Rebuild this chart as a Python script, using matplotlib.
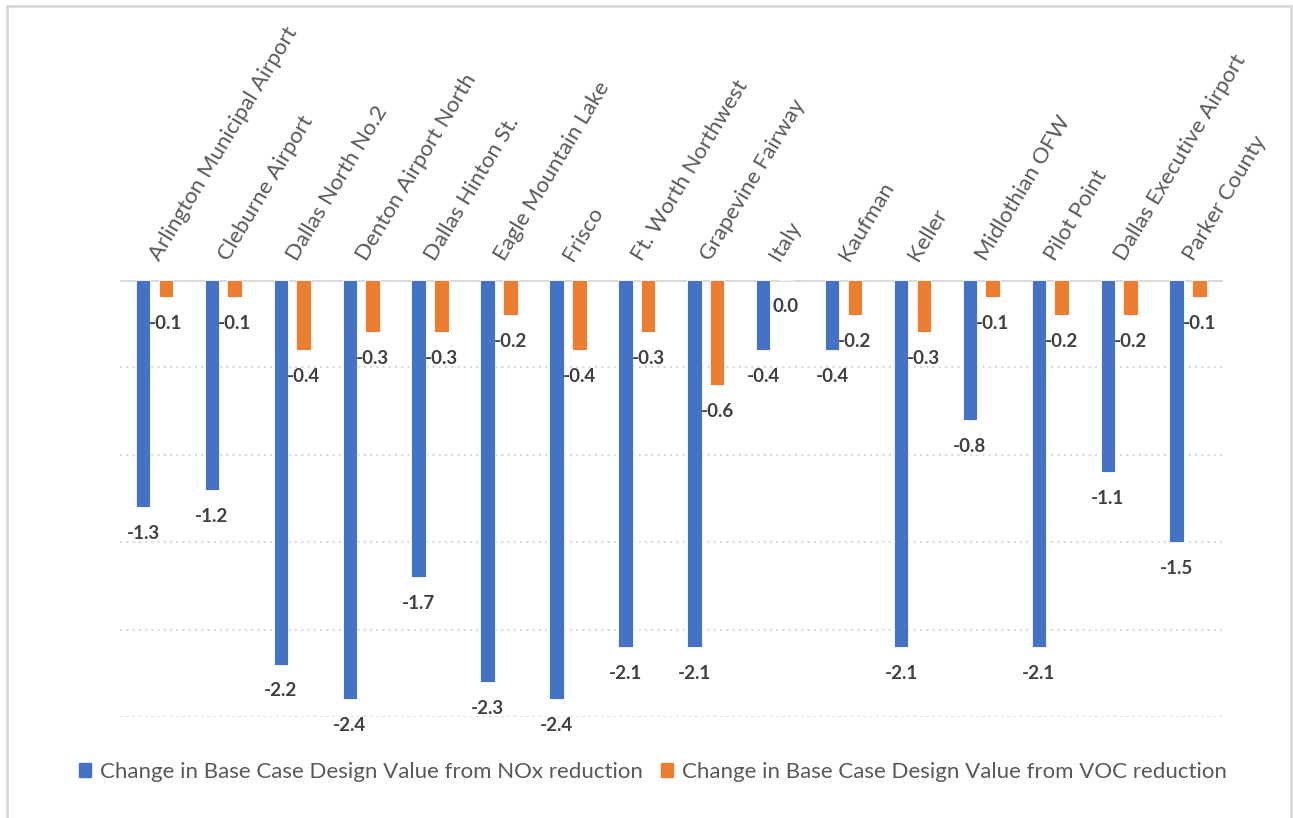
import matplotlib.pyplot as plt
import matplotlib.patches as mpatches
import numpy as np

# monitor sites and the design value changes
sites = ['Arlington Municipal Airport', 'Cleburne Airport', 'Dallas North No.2',
         'Denton Airport North', 'Dallas Hinton St.', 'Eagle Mountain Lake',
         'Frisco', 'Ft. Worth Northwest', 'Grapevine Fairway', 'Italy',
         'Kaufman', 'Keller', 'Midlothian OFW', 'Pilot Point',
         'Dallas Executive Airport', 'Parker County']
nox_change = [-1.3, -1.2, -2.2, -2.4, -1.7, -2.3, -2.4, -2.1, -2.1, -0.4,
              -0.4, -2.1, -0.8, -2.1, -1.1, -1.5]
voc_change = [-0.1, -0.1, -0.4, -0.3, -0.3, -0.2, -0.4, -0.3, -0.6, 0.0,
              -0.2, -0.3, -0.1, -0.2, -0.2, -0.1]
legend_labels = ['Change in Base Case Design Value from NOx reduction',
                 'Change in Base Case Design Value from VOC reduction']

BLUE = '#4472c4'
ORANGE = '#ed7d31'
GRID = '#d9d9d9'
plt.rcParams['font.family'] = ['Lato', 'DejaVu Sans']

fig = plt.figure(figsize=(12.93, 8.18), dpi=100)
ax = fig.add_axes([0.0928, 0.1235, 0.8527, 0.5342])

x = np.arange(len(sites))
w = 0.21
off = 0.165
b1 = ax.bar(x - off, nox_change, w, color=BLUE, edgecolor='white', linewidth=0.6, zorder=3)
b2 = ax.bar(x + off, voc_change, w, color=ORANGE, edgecolor='white', linewidth=0.6, zorder=3)

for bars, vals in [(b1, nox_change), (b2, voc_change)]:
    for rect, v in zip(bars, vals):
        cx = rect.get_x() + rect.get_width() / 2
        ax.annotate('%.1f' % v, (cx, v), xytext=(0, -19), textcoords='offset points',
                    ha='center', va='center', fontsize=13.5, fontweight='bold',
                    color='#404040', zorder=4)

ax.set_xlim(-0.5, len(sites) - 0.5)
ax.set_ylim(-2.5, 0)
ax.set_yticks([-2.5, -2.0, -1.5, -1.0, -0.5])
ax.yaxis.grid(True, linestyle=(0, (1, 2)), color=GRID, linewidth=1.5, zorder=0)
ax.tick_params(axis='y', left=False, labelleft=False)
ax.axhline(0, color=GRID, linewidth=2, zorder=2)
for s in ax.spines.values():
    s.set_visible(False)

ax.xaxis.tick_top()
ax.set_xticks(x)
ax.set_xticklabels(sites, rotation=59, ha='left', va='center', rotation_mode='anchor',
                   fontsize=16, color='#595959')
ax.tick_params(axis='x', top=False, pad=12)

handles = [mpatches.Patch(color=BLUE), mpatches.Patch(color=ORANGE)]
fig.legend(handles, legend_labels, loc='center', bbox_to_anchor=(0.505, 0.056), ncol=2,
           frameon=False, fontsize=16, labelcolor='#595959', handlelength=0.55,
           handleheight=0.6, handletextpad=0.4, columnspacing=0.8)

border = mpatches.Rectangle((7 / 1293, -0.01), 1284 / 1293, 1 - 6 / 818 + 0.01,
                            transform=fig.transFigure, fill=False, edgecolor=GRID,
                            linewidth=2)
fig.patches.append(border)

fig.savefig('out.png', dpi=100)
